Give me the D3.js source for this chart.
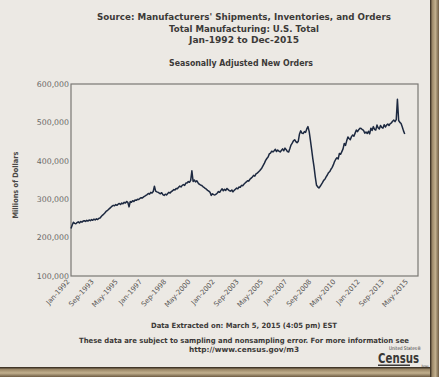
<!DOCTYPE html>
<html lang="en">
<head>
<meta charset="UTF-8">
<title>New Orders</title>
<script src="https://d3js.org/d3.v7.min.js"></script>
<style>
  body { margin: 0; background: #ece9e4; }
  text { font-family: "DejaVu Sans", Verdana, sans-serif; }
</style>
</head>
<body>
<svg width="439" height="377"></svg>
<script>
  // monthly new orders, millions of dollars, starting Jan-1992
  const firstMonth = "1992-01";
  const newOrders = [
    224, 233, 240, 237, 236, 239, 241, 238, 242, 240, 243, 244, // 1992
    242, 245, 243, 246, 244, 247, 245, 248, 246, 249, 247, 250, // 1993
    251, 255, 258, 261, 264, 268, 270, 273, 276, 279, 282, 284, // 1994
    283, 286, 284, 287, 289, 286, 290, 288, 292, 290, 294, 292, // 1995
    280, 294, 292, 296, 294, 298, 297, 300, 299, 302, 304, 303, // 1996
    306, 308, 310, 312, 315, 313, 318, 316, 320, 334, 321, 319, // 1997
    318, 316, 314, 317, 312, 310, 313, 311, 315, 318, 316, 320, // 1998
    322, 325, 324, 328, 327, 331, 334, 332, 336, 338, 336, 342, // 1999
    342, 346, 344, 349, 374, 346, 350, 345, 348, 343, 339, 337, // 2000
    336, 333, 331, 328, 326, 323, 321, 318, 310, 314, 312, 311, // 2001
    313, 316, 320, 318, 323, 327, 322, 326, 323, 328, 325, 322, // 2002
    321, 324, 319, 323, 326, 329, 327, 332, 331, 336, 335, 339, // 2003
    342, 345, 348, 347, 352, 355, 358, 362, 360, 366, 368, 371, // 2004
    374, 378, 382, 388, 394, 401, 406, 410, 418, 420, 425, 423, // 2005
    426, 430, 424, 428, 425, 423, 427, 431, 426, 433, 429, 424, // 2006
    423, 432, 441, 446, 452, 455, 450, 447, 451, 470, 478, 472, // 2007
    471, 476, 474, 483, 489, 476, 454, 430, 405, 384, 358, 337, // 2008
    332, 329, 333, 338, 343, 349, 352, 358, 363, 369, 372, 378, // 2009
    383, 390, 398, 404, 408, 405, 419, 417, 424, 431, 445, 440, // 2010
    452, 462, 458, 455, 463, 467, 464, 472, 480, 476, 481, 485, // 2011
    484, 481, 479, 472, 475, 471, 477, 470, 485, 479, 489, 482, // 2012
    480, 493, 486, 483, 492, 487, 485, 494, 488, 493, 496, 492, // 2013
    497, 499, 503, 506, 502, 507, 560, 505, 500, 497, 488, 478, // 2014
    470                                                          // 2015
  ].map(v => v * 1000);

  const yTicks = [100000, 200000, 300000, 400000, 500000, 600000];
  const xTickLabels = ["Jan-1992", "Sep-1993", "May-1995", "Jan-1997", "Sep-1998",
    "May-2000", "Jan-2002", "Sep-2003", "May-2005", "Jan-2007", "Sep-2008",
    "May-2010", "Jan-2012", "Sep-2013", "May-2015"];
  const titleLines = ["Source: Manufacturers' Shipments, Inventories, and Orders",
    "Total Manufacturing: U.S. Total", "Jan-1992 to Dec-2015"];
  const subTitle = "Seasonally Adjusted New Orders";
  const yTitle = "Millions of Dollars";
  const footerLines = ["Data Extracted on: March 5, 2015 (4:05 pm) EST",
    "These data are subject to sampling and nonsampling error. For more information see",
    "http://www.census.gov/m3"];

  const svg = d3.select("svg");
  const width = +svg.attr("width");
  const height = +svg.attr("height");
  const plot = { left: 71, top: 84, right: 418, bottom: 276 };

  const parseMonth = d3.timeParse("%Y-%m");
  const parseTick = d3.timeParse("%b-%Y");
  const start = parseMonth(firstMonth);
  const series = newOrders.map((v, i) => ({ date: d3.timeMonth.offset(start, i), value: v }));

  const x = d3.scaleTime()
    .domain([start, parseMonth("2015-12")])
    .range([plot.left, plot.right]);
  const y = d3.scaleLinear()
    .domain([100000, 600000])
    .range([plot.bottom, plot.top]);

  svg.append("rect").attr("width", width).attr("height", height).attr("fill", "#ece9e4");

  // picture frame at the right and bottom
  const defs = svg.append("defs");
  const frameStops = [[0, "#2b2218"], [0.25, "#9c8868"], [0.6, "#c2b08e"], [1, "#6e5c43"]];
  const gr = defs.append("linearGradient").attr("id", "fr").attr("x1", 0).attr("x2", 1);
  const gb = defs.append("linearGradient").attr("id", "fb").attr("x1", 0).attr("x2", 0).attr("y1", 0).attr("y2", 1);
  [gr, gb].forEach(g => g.selectAll("stop").data(frameStops).enter().append("stop")
    .attr("offset", d => d[0]).attr("stop-color", d => d[1]));
  svg.append("rect").attr("x", 430).attr("y", 0).attr("width", 9).attr("height", height).attr("fill", "url(#fr)");
  svg.append("rect").attr("x", 0).attr("y", 367).attr("width", 430).attr("height", 10).attr("fill", "url(#fb)");

  // squeeze a text line to a measured width
  function fit(t, w) {
    t.attr("textLength", w).attr("lengthAdjust", "spacingAndGlyphs");
  }

  const titleY = [20, 32, 43];
  const titleW = [294, 150, 110];
  titleLines.forEach((s, i) => {
    const t = svg.append("text")
      .attr("x", 244).attr("y", titleY[i])
      .attr("text-anchor", "middle")
      .attr("font-size", 9.5).attr("font-weight", "bold").attr("fill", "#3c3a38")
      .text(s);
    fit(t, titleW[i]);
  });
  fit(svg.append("text")
    .attr("x", 241).attr("y", 66)
    .attr("text-anchor", "middle")
    .attr("font-size", 8).attr("font-weight", "bold").attr("fill", "#3c3a38")
    .text(subTitle), 144);

  // plot box
  svg.append("rect")
    .attr("x", plot.left).attr("y", plot.top)
    .attr("width", plot.right - plot.left).attr("height", plot.bottom - plot.top)
    .attr("fill", "none").attr("stroke", "#7a7874").attr("stroke-width", 1.2);

  // y axis labels
  svg.append("g").selectAll("text")
    .data(yTicks).enter().append("text")
    .attr("x", plot.left - 2).attr("y", d => y(d)).attr("dy", "0.35em")
    .attr("text-anchor", "end")
    .attr("font-size", 7.8).attr("fill", "#6a6866")
    .text(d3.format(","));

  fit(svg.append("text")
    .attr("transform", "translate(18,185) rotate(-90)")
    .attr("text-anchor", "middle")
    .attr("font-size", 7.5).attr("font-weight", "bold").attr("fill", "#4a4846")
    .text(yTitle), 67);

  // x axis labels, rotated
  svg.append("g").selectAll("text")
    .data(xTickLabels).enter().append("text")
    .attr("transform", d => "translate(" + (x(parseTick(d)) - 1) + "," + (plot.bottom + 6) + ") rotate(-48)")
    .attr("text-anchor", "end")
    .attr("font-size", 7).attr("fill", "#5a5856")
    .text(d => d);

  // data line
  const line = d3.line().x(d => x(d.date)).y(d => y(d.value));
  svg.append("path")
    .datum(series)
    .attr("d", line)
    .attr("fill", "none")
    .attr("stroke", "#1d2940")
    .attr("stroke-width", 1.5)
    .attr("stroke-linejoin", "round");

  // footer
  const footY = [328, 343, 352];
  const footW = [186, 330, 110];
  footerLines.forEach((s, i) => {
    const t = svg.append("text")
      .attr("x", 244).attr("y", footY[i])
      .attr("text-anchor", "middle")
      .attr("font-size", 7.3).attr("font-weight", "bold").attr("fill", "#3c3a38")
      .text(s);
    fit(t, footW[i]);
  });

  // census logo
  const logo = svg.append("g").attr("fill", "#3a3836");
  fit(logo.append("text").attr("x", 389).attr("y", 350)
    .attr("font-size", 5).attr("font-family", "Liberation Serif")
    .text("United States\u00ae"), 32);
  logo.append("text")
    .attr("transform", "translate(378,363) scale(1,1.35)")
    .attr("font-size", 10.2).attr("font-weight", "bold")
    .text("Census");
  logo.append("rect").attr("x", 378).attr("y", 364.5).attr("width", 32).attr("height", 1.5);
  fit(logo.append("text").attr("x", 421.5).attr("y", 366.5)
    .attr("font-size", 3).text("Bureau"), 7);
</script>
</body>
</html>
